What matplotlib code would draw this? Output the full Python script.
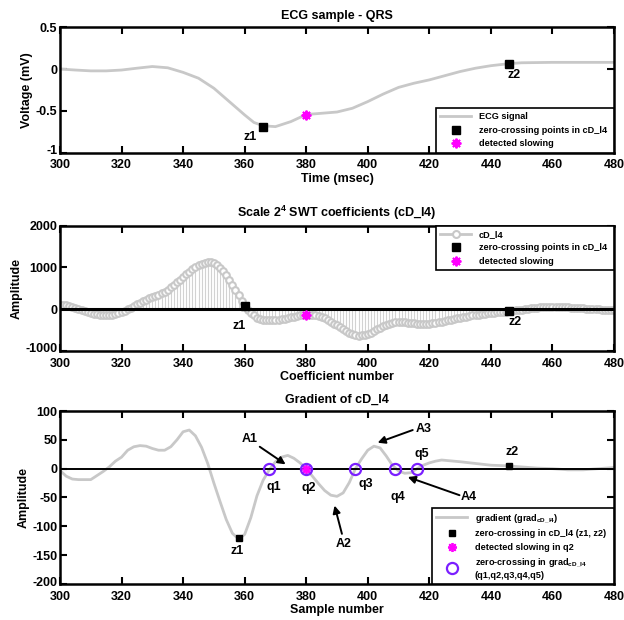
import numpy as np
import matplotlib
matplotlib.use("Agg")
import matplotlib.pyplot as plt
from matplotlib.lines import Line2D
from matplotlib.legend_handler import HandlerLine2D
import matplotlib.transforms as mtransforms

plt.rcParams['font.family'] = ['Liberation Sans', 'DejaVu Sans']
plt.rcParams['font.weight'] = 'bold'
plt.rcParams['axes.unicode_minus'] = False
plt.rcParams['mathtext.fontset'] = 'custom'
plt.rcParams['mathtext.rm'] = 'Liberation Sans:bold'
plt.rcParams['mathtext.bf'] = 'Liberation Sans:bold'
plt.rcParams['mathtext.it'] = 'Liberation Sans:bold'
plt.rcParams['mathtext.default'] = 'rm'

# ---------------- data ----------------
ecg_t = [300, 305, 310, 315, 320, 325, 330, 335, 340, 345, 350, 355, 360, 363, 366,
         370, 375, 380, 385, 390, 395, 400, 405, 410, 415, 420, 425, 430, 435, 440,
         446, 450, 460, 470, 480]
ecg_v = [0.0, -0.012, -0.022, -0.022, -0.012, 0.01, 0.03, 0.015, -0.04, -0.11, -0.23,
         -0.39, -0.55, -0.64, -0.68, -0.69, -0.63, -0.545, -0.53, -0.515, -0.47, -0.39,
         -0.30, -0.22, -0.17, -0.13, -0.08, -0.03, 0.01, 0.04, 0.065, 0.075, 0.08, 0.08, 0.08]

cd_n = list(range(300, 481))
cd_v = [100, 95, 85, 72, 56, 34, 10, -15, -40, -65,
        -90, -110, -125, -137, -145, -148, -145, -137, -125, -102,
        -75, -43, -10, 30, 70, 110, 150, 185, 220, 253,
        285, 315, 345, 380, 420, 468, 520, 578, 640, 705,
        770, 835, 900, 958, 1010, 1053, 1090, 1115, 1130, 1122,
        1100, 1052, 990, 908, 810, 700, 580, 455, 330, 200,
        75, -12, -90, -155, -210, -240, -260, -267, -270, -268,
        -265, -256, -245, -230, -215, -198, -180, -164, -150, -141,
        -136, -137, -140, -150, -165, -190, -220, -258, -300, -348,
        -395, -443, -490, -532, -570, -600, -625, -640, -635, -620,
        -600, -568, -530, -490, -450, -413, -380, -355, -335, -322,
        -315, -314, -318, -325, -333, -342, -350, -355, -357, -356,
        -350, -340, -328, -315, -300, -285, -270, -255, -240, -225,
        -210, -196, -182, -168, -155, -143, -132, -121, -111, -102,
        -94, -86, -79, -72, -66, -60, -55, -45, -35, -25,
        -15, -5, 5, 15, 25, 33, 40, 45, 48, 50,
        50, 50, 49, 47, 45, 40, 35, 30, 25, 20,
        15, 10, 5, 0, -5, -9, -12, -14, -15, -16,
        -16]

grad_n = [300, 302, 304, 306, 308, 310, 312, 314, 316, 318, 320, 322, 324, 326, 328,
          330, 332, 334, 336, 338, 340, 342, 344, 346, 348, 350, 352, 354, 356, 358,
          360, 362, 364, 366, 368, 370, 372, 374, 376, 378, 380, 382, 384, 386, 388,
          390, 392, 394, 396, 398, 400, 402, 404, 406, 408, 410, 412, 414, 416, 418,
          420, 422, 424, 426, 428, 430, 435, 440, 445, 450, 455, 460, 465, 470, 475, 480]
grad_v = [-3, -13, -18, -19, -19, -19, -12, -5, 3, 13, 20, 32, 38, 40, 39,
          35, 32, 32, 38, 50, 64, 67, 57, 37, 9, -25, -57, -88, -112, -122,
          -114, -85, -47, -20, -2, 12, 20, 23, 18, 10, 0, -13, -26, -38, -46,
          -48, -42, -24, 0, 17, 32, 39, 36, 22, 6, -4, -8, -7, 0, 6,
          10, 13, 15, 14, 13, 12, 9, 6, 5, 3, 1, 0, -2, -2, 0, 2]

# markers
ecg_z_t = [366, 446]
ecg_z_v = [-0.69, 0.063]
ecg_slow_t = [380]
ecg_slow_v = [-0.545]

cd_z_n = [360, 446]
cd_z_v = [72, -57]
cd_slow_n = [380]
cd_slow_v = [-136]

gr_z_n = [358, 446]
gr_z_v = [-120, 5]
gr_slow_n = [380]
gr_slow_v = [0]
q_n = [368, 380, 396, 409, 416]
q_v = [0, 0, 0, 0, 0]

GRAY = '#c8c8c8'
MAG = '#ff00ff'
PURPLE = '#7b1fff'
STAR = (8, 2, 0)

fig = plt.figure(figsize=(6.24, 6.20), dpi=100)
L, W = 60 / 624, 554 / 624
ax1 = fig.add_axes([L, 1 - 152.5 / 620, W, 125.2 / 620])
ax2 = fig.add_axes([L, 1 - 350.7 / 620, W, 125.0 / 620])
ax3 = fig.add_axes([L, 1 - 584 / 620, W, 173.0 / 620])

def style(ax, yticks, ylabels):
    ax.set_xlim(300, 480)
    ax.set_xticks(range(300, 481, 20))
    ax.set_xticklabels([str(v) for v in range(300, 481, 20)])
    ax.set_ylim(yticks[0], yticks[-1])
    ax.set_yticks(yticks)
    ax.set_yticklabels(ylabels)
    ax.tick_params(direction='in', top=True, right=True, length=5, width=1.5,
                   labelsize=9)
    ax.tick_params(axis='x', pad=5)
    ax.tick_params(axis='y', pad=2)
    for s in ax.spines.values():
        s.set_linewidth(1.8)
    # lift the lowest y tick label slightly so it clears the first x label
    lbl = ax.get_yticklabels()[0]
    lbl.set_transform(lbl.get_transform() +
                      mtransforms.ScaledTranslation(0, 2 / 72, fig.dpi_scale_trans))

leg_prop = {'weight': 'bold', 'size': 6.6}
leg_kw = dict(borderaxespad=0, prop=leg_prop, fancybox=False, framealpha=1,
              edgecolor='k', handlelength=3.4, handletextpad=0.8, labelspacing=0.5,
              borderpad=0.45, numpoints=1, mode='expand')

class EndMarkerHandler(HandlerLine2D):
    def get_xdata(self, legend, xdescent, ydescent, width, height, fontsize):
        xdata = np.array([-xdescent, -xdescent + width])
        return xdata, np.array([-xdescent + width * 0.9])

# ---------- panel 1 ----------
l1, = ax1.plot(ecg_t, ecg_v, color=GRAY, lw=2, label='ECG signal')
m1, = ax1.plot(ecg_z_t, ecg_z_v, 's', color='k', ms=6, ls='none',
               label='zero-crossing points in cD_l4')
s1, = ax1.plot(ecg_slow_t, ecg_slow_v, marker=STAR, color=MAG, mec=MAG, mew=1.4,
               ms=7, ls='none', label='detected slowing')
style(ax1, [-1, -0.5, 0, 0.5], ['-1', '-0.5', '0', '0.5'])
ax1.set_title('ECG sample - QRS', fontsize=9, fontweight='bold', pad=6)
ax1.set_xlabel('Time (msec)', fontsize=9, fontweight='bold', labelpad=1)
ax1.set_ylabel('Voltage (mV)', fontsize=9, fontweight='bold', labelpad=2)
ax1.text(361.7, -0.82, 'z1', fontsize=9, fontweight='bold', ha='center', va='center')
ax1.text(447.5, -0.07, 'z2', fontsize=9, fontweight='bold', ha='center', va='center')
x0 = (436 - 60) / 554
lg1 = ax1.legend(loc='lower left', bbox_to_anchor=(x0, 0, 1 - x0, 0.4), **leg_kw)
lg1.get_frame().set_linewidth(1.2)

# ---------- panel 2 ----------
mk, sl, bl = ax2.stem(cd_n, cd_v, linefmt='-', markerfmt='o', basefmt='k-')
sl.set_color('#d2d2d2')
sl.set_linewidth(0.8)
mk.set_markerfacecolor('white')
mk.set_markeredgecolor(GRAY)
mk.set_markersize(4.8)
mk.set_markeredgewidth(1.5)
bl.set_color('k')
bl.set_linewidth(2.2)
m2, = ax2.plot(cd_z_n, cd_z_v, 's', color='k', ms=6, ls='none')
s2, = ax2.plot(cd_slow_n, cd_slow_v, marker=STAR, color=MAG, mec=MAG, mew=1.4,
               ms=7, ls='none')
style(ax2, [-1000, 0, 1000, 2000], ['-1000', '0', '1000', '2000'])
ax2.set_title('Scale 2$^4$ SWT coefficients (cD_l4)', fontsize=9, fontweight='bold', pad=6)
ax2.set_xlabel('Coefficient number', fontsize=9, fontweight='bold', labelpad=1)
ax2.set_ylabel('Amplitude', fontsize=9, fontweight='bold', labelpad=2)
ax2.text(358.3, -400, 'z1', fontsize=9, fontweight='bold', ha='center', va='center')
ax2.text(447.7, -303, 'z2', fontsize=9, fontweight='bold', ha='center', va='center')
cd_handle = Line2D([], [], color=GRAY, lw=2, marker='o', mfc='white', mec=GRAY, ms=5, mew=1.5)
lg2 = ax2.legend([cd_handle, m2, s2],
                 ['cD_l4', 'zero-crossing points in cD_l4', 'detected slowing'],
                 loc='upper left', bbox_to_anchor=(x0, 0, 1 - x0, 1.0),
                 handler_map={cd_handle: EndMarkerHandler()}, **leg_kw)
lg2.get_frame().set_linewidth(1.2)

# ---------- panel 3 ----------
g3, = ax3.plot(grad_n, grad_v, color=GRAY, lw=2)
ax3.axhline(0, color='k', lw=1.4, zorder=2)
m3, = ax3.plot(gr_z_n, gr_z_v, 's', color='k', ms=5, ls='none', zorder=3)
q3, = ax3.plot(q_n, q_v, 'o', mfc='none', mec=PURPLE, mew=1.6, ms=8, ls='none', zorder=4)
s3, = ax3.plot(gr_slow_n, gr_slow_v, marker=STAR, color=MAG, mec=MAG, mew=1.3,
               ms=6.5, ls='none', zorder=3)
style(ax3, [-200, -150, -100, -50, 0, 50, 100],
      ['-200', '-150', '-100', '-50', '0', '50', '100'])
ax3.set_title('Gradient of cD_l4', fontsize=9, fontweight='bold', pad=6)
ax3.set_xlabel('Sample number', fontsize=9, fontweight='bold', labelpad=1)
ax3.set_ylabel('Amplitude', fontsize=9, fontweight='bold', labelpad=2)

def lab(x, y, s):
    ax3.text(x, y, s, fontsize=9, fontweight='bold', ha='center', va='center')

lab(357.5, -142, 'z1')
lab(446.8, 29, 'z2')
lab(369.4, -32, 'q1')
lab(380.9, -33, 'q2')
lab(399.2, -27, 'q3')
lab(409.7, -50, 'q4')
lab(417.6, 26, 'q5')

arrows = [('A1', (361.6, 51), (364.9, 38), (373.3, 7.5)),
          ('A2', (392.0, -131), (391.6, -113), (389.2, -64)),
          ('A3', (418.3, 69), (414.6, 67), (403.2, 45)),
          ('A4', (432.8, -50), (429.8, -46), (413.0, -14.5))]
for name, tpos, tail, tip in arrows:
    lab(tpos[0], tpos[1], name)
    ax3.annotate('', xy=tip, xytext=tail,
                 arrowprops=dict(arrowstyle='-|>', color='k', lw=1.4,
                                 mutation_scale=11, shrinkA=0, shrinkB=0))

x3 = (432 - 60) / 554
lg3 = ax3.legend([g3, m3, s3, q3],
                 ['gradient (grad$_{cD\\_l4}$)', 'zero-crossing in cD_l4 (z1, z2)',
                  'detected slowing in q2',
                  'zero-crossing in grad$_{cD\\_l4}$\n(q1,q2,q3,q4,q5)'],
                 loc='lower left', bbox_to_anchor=(x3, 0, 1 - x3, 0.5), **leg_kw)
lg3.get_frame().set_linewidth(1.2)

fig.savefig('out.png', dpi=100)
